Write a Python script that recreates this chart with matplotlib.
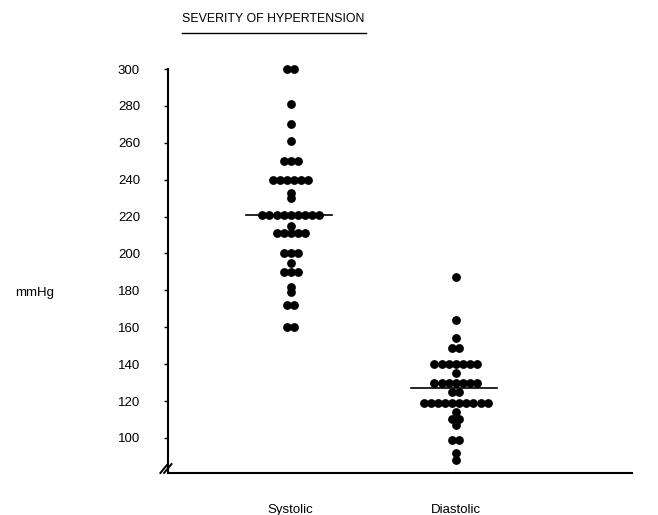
import numpy as np
import matplotlib.pyplot as plt

plt.rcParams['font.family'] = ['Liberation Sans', 'DejaVu Sans']

# values (mmHg), value -> number of dots in that row
systolic_vals = [300, 281, 270, 261, 250, 240, 233, 230, 221, 215, 211, 200, 195, 190, 182, 179, 172, 160]
systolic_cnt = [2, 1, 1, 1, 3, 6, 1, 1, 9, 1, 5, 3, 1, 3, 1, 1, 2, 2]

diastolic_vals = [187, 164, 154, 149, 140, 135, 130, 125, 119, 114, 110, 107, 99, 92, 88]
diastolic_cnt = [1, 1, 1, 2, 7, 1, 7, 2, 10, 1, 2, 1, 2, 1, 1]

groups = ['Systolic', 'Diastolic']
yticks = list(range(100, 301, 20))


def rows(vals, cnt, center, step=0.043):
    xs, ys = [], []
    for v, n in zip(vals, cnt):
        off = (np.arange(n) - (n - 1) / 2) * step
        xs.extend(center + off)
        ys.extend([v] * n)
    return np.array(xs), np.array(ys)


fig = plt.figure(figsize=(6.58, 5.15), dpi=100)
ax = fig.add_axes([0.255, 0.0816, 0.705, 0.788])

data = [(systolic_vals, systolic_cnt), (diastolic_vals, diastolic_cnt)]
for i, (vals, cnt) in enumerate(data):
    c = i + 1
    x, y = rows(vals, cnt, c)
    ax.scatter(x, y, s=40, color='black', zorder=3, clip_on=False, linewidths=0)
    m = np.mean(y)
    ax.plot([c - 0.27, c + 0.25], [m, m], color='black', lw=1.2, zorder=4)

ax.set_xlim(0.2545, 3.067)
ax.set_ylim(81, 301)
ax.set_yticks(yticks)
ax.set_yticklabels([str(t) for t in yticks], fontsize=9.5)
ax.set_xticks([1, 2])
ax.set_xticklabels(groups, fontsize=9.5)
ax.tick_params(axis='y', direction='out', length=3, width=1, pad=17)
ax.tick_params(axis='x', length=0, pad=22)

for s in ['top', 'right']:
    ax.spines[s].set_visible(False)
ax.spines['left'].set_linewidth(1.5)
ax.spines['bottom'].set_linewidth(1.5)
ax.spines['left'].set_bounds(81, 300)

# axis break mark
for dx in (-0.004, 0.004):
    ax.plot([-0.012 + dx, 0.004 + dx], [0.0, 0.022], transform=ax.transAxes,
            color='black', lw=1.4, clip_on=False)

fig.text(0.023, 0.425, 'mmHg', fontsize=9.5)
fig.text(0.277, 0.958, 'SEVERITY OF HYPERTENSION', fontsize=8.9)
fig.add_artist(plt.Line2D([0.277, 0.556], [0.936, 0.936], color='black', lw=1))

plt.savefig('out.png')
